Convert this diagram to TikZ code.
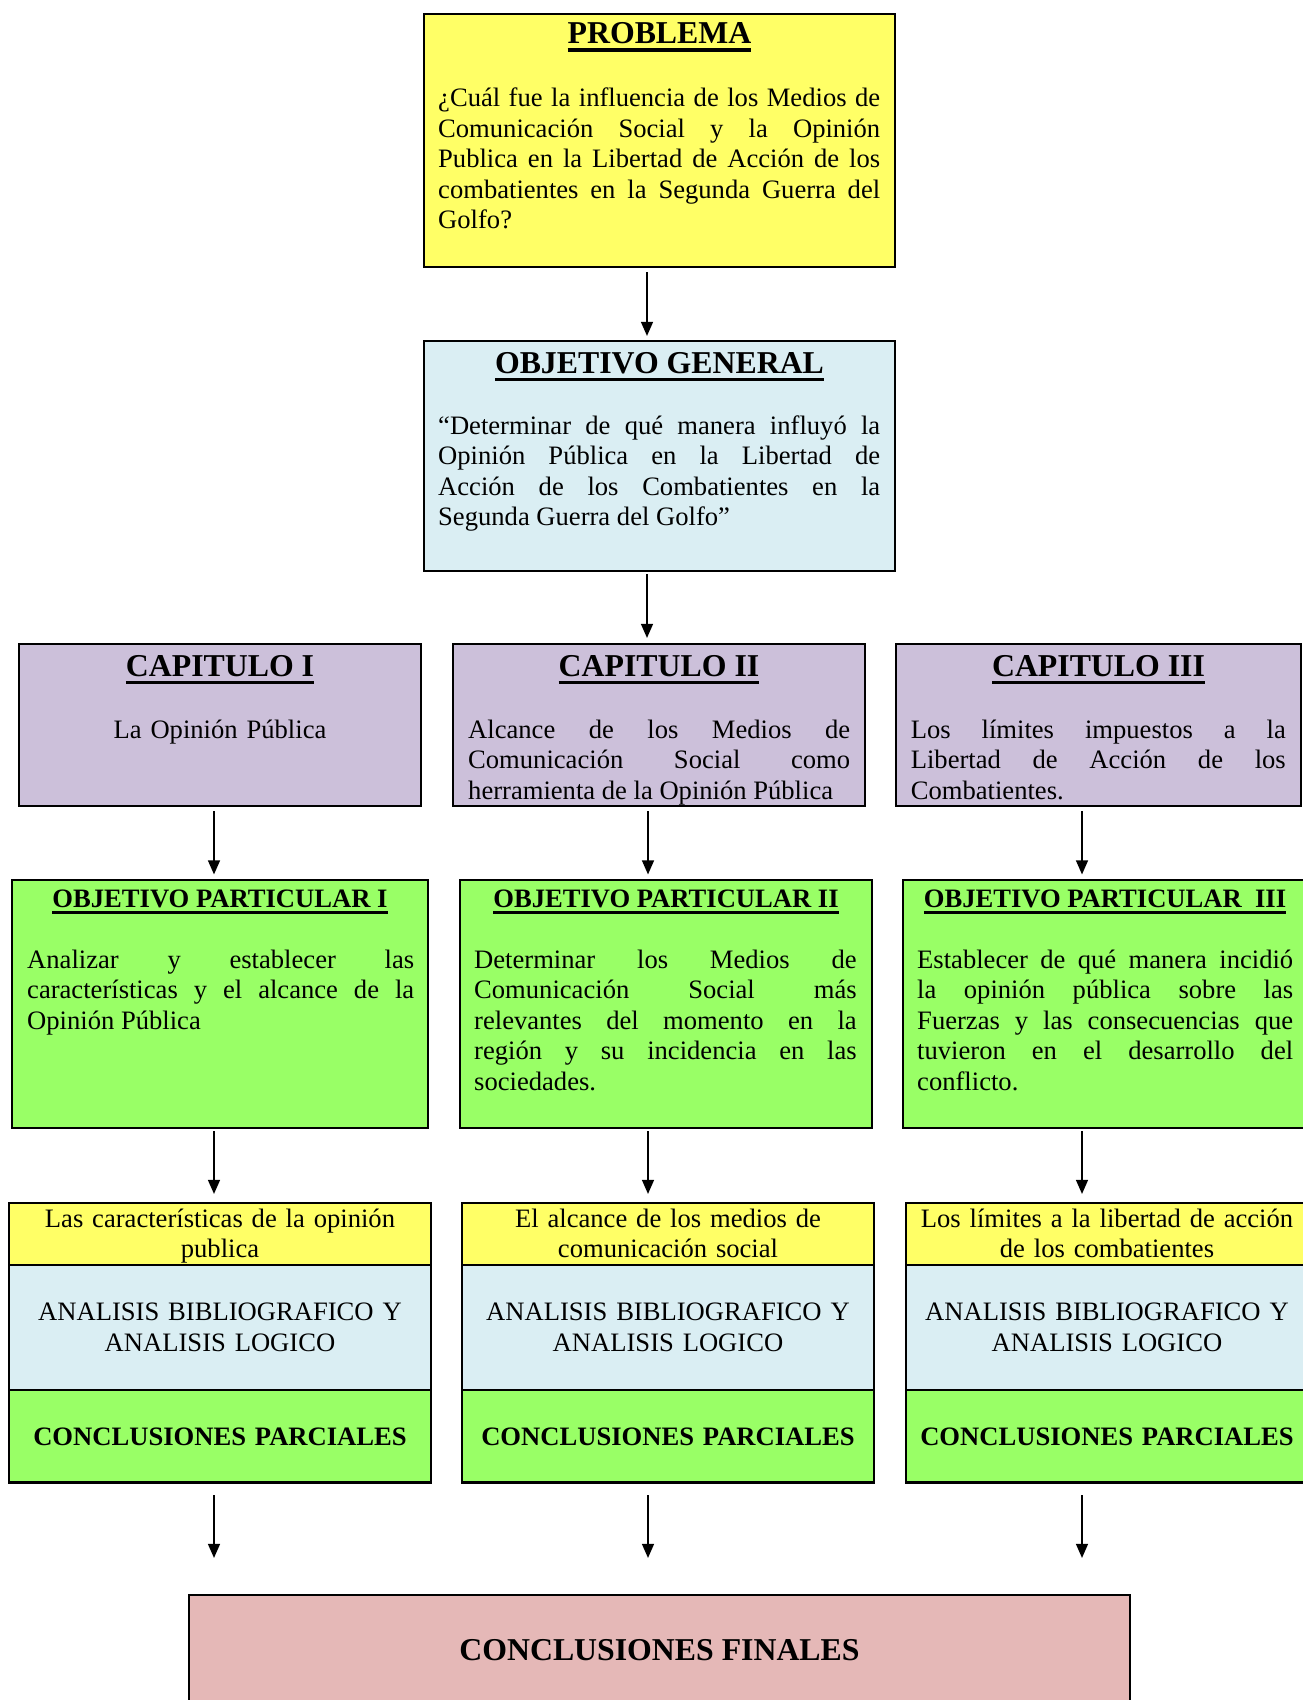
\documentclass[tikz,border=0pt]{standalone}
\usepackage{fontspec}
\setmainfont{Liberation Serif}
\usetikzlibrary{arrows.meta}
\definecolor{cyel}{RGB}{255,255,102}
\definecolor{cblu}{RGB}{218,238,243}
\definecolor{clav}{RGB}{204,192,218}
\definecolor{cgrn}{RGB}{153,255,102}
\definecolor{cpnk}{RGB}{229,184,183}
\newcommand\hul[3]{\setbox0\hbox{#1}\rlap{\rule[#2]{\wd0}{#3}}\box0}
\newcommand\bigh[1]{{\fontsize{31.8}{36}\selectfont\bfseries\hul{#1}{-8.2pt}{3.3pt}}}
\newcommand\smh[1]{{\fontsize{26.6}{30.6}\selectfont\bfseries\hul{#1}{-6.6pt}{2.7pt}}}
\begin{document}
\begin{tikzpicture}[x=1pt,y=-1pt,
  box/.style={draw=black,line width=2.2pt,inner sep=0pt,rectangle},
  body/.style={anchor=base west,inner sep=0pt,text width=#1,align=justify,
    font=\fontsize{26.6}{30.6}\selectfont,
    execute at begin node={\tolerance=10000\hbadness=10000\hfuzz=3pt}},
  cbody/.style={anchor=base,inner sep=0pt,text width=#1,align=center,
    font=\fontsize{26.6}{30.6}\selectfont},
  head/.style={anchor=base,inner sep=0pt},
  arr/.style={-{Triangle[length=14pt,width=12pt]},line width=1.3pt}
]
\useasboundingbox[fill=white] (0,0) rectangle (1302,1700);

% ---- PROBLEMA
\node[box,fill=cyel,minimum width=471pt,minimum height=253pt] (prob) at (659.5,140.5) {};
\node[head] (probh) at (659.5,43.3) {\bigh{PROBLEMA}};
\node[body=442pt] (probt) at (438,106.5) {¿Cuál fue la influencia de los Medios de\linebreak Comunicación Social y la Opinión\linebreak Publica en la Libertad de Acción de los\linebreak combatientes en la Segunda Guerra del\linebreak Golfo?};

% ---- OBJETIVO GENERAL
\node[box,fill=cblu,minimum width=471pt,minimum height=230pt] (gen) at (659.5,456) {};
\node[head] (genh) at (659.5,373) {\bigh{OBJETIVO GENERAL}};
\node[body=442pt] (gent) at (438,434) {“Determinar de qué manera influyó la\linebreak Opinión Pública en la Libertad de\linebreak Acción de los Combatientes en la\linebreak Segunda Guerra del Golfo”};

% ---- CAPITULOS
\node[box,fill=clav,minimum width=402pt,minimum height=162pt] (cap1) at (220,725) {};
\node[box,fill=clav,minimum width=412pt,minimum height=162pt] (cap2) at (659,725) {};
\node[box,fill=clav,minimum width=405pt,minimum height=162pt] (cap3) at (1098.5,725) {};
\node[head] (cap1h) at (220,676) {\bigh{CAPITULO I}};
\node[head] (cap2h) at (659,676) {\bigh{CAPITULO II}};
\node[head] (cap3h) at (1098.5,676) {\bigh{CAPITULO III}};
\node[cbody=380pt] (cap1t) at (220,738) {La Opinión Pública};
\node[body=382pt] (cap2t) at (468,738) {Alcance de los Medios de\linebreak Comunicación Social como\linebreak herramienta de la Opinión Pública};
\node[body=375pt] (cap3t) at (910.6,738) {Los límites impuestos a la\linebreak Libertad de Acción de los\linebreak Combatientes.};

% ---- OBJETIVOS PARTICULARES
\node[box,fill=cgrn,minimum width=416pt,minimum height=248pt] (op1) at (220,1004) {};
\node[box,fill=cgrn,minimum width=412pt,minimum height=248pt] (op2) at (666,1004) {};
\node[box,fill=cgrn,minimum width=404pt,minimum height=248pt] (op3) at (1105,1004) {};
\node[head] (op1h) at (220,907.5) {\smh{OBJETIVO PARTICULAR I}};
\node[head] (op2h) at (666,907.5) {\smh{OBJETIVO PARTICULAR II}};
\node[head] (op3h) at (1105,907.5) {\smh{OBJETIVO PARTICULAR \ III}};
\node[body=387pt] (op1t) at (27,968) {Analizar y establecer las\linebreak características y el alcance de la\linebreak Opinión Pública};
\node[body=382.5pt] (op2t) at (474,968) {Determinar los Medios de\linebreak Comunicación Social más\linebreak relevantes del momento en la\linebreak región y su incidencia en las\linebreak sociedades.};
\node[body=376pt] (op3t) at (917,968) {Establecer de qué manera incidió\linebreak la opinión pública sobre las\linebreak Fuerzas y las consecuencias que\linebreak tuvieron en el desarrollo del\linebreak conflicto.};

% ---- STACKS
\node[box,fill=cyel,minimum width=422pt,minimum height=62pt] (y1) at (220,1233.6) {};
\node[box,fill=cblu,minimum width=422pt,minimum height=125.3pt] (b1) at (220,1327.4) {};
\node[box,fill=cgrn,minimum width=422pt,minimum height=92.5pt] (g1) at (220,1436.2) {};
\node[box,fill=cyel,minimum width=412pt,minimum height=62pt] (y2) at (668,1233.6) {};
\node[box,fill=cblu,minimum width=412pt,minimum height=125.3pt] (b2) at (668,1327.4) {};
\node[box,fill=cgrn,minimum width=412pt,minimum height=92.5pt] (g2) at (668,1436.2) {};
\node[box,fill=cyel,minimum width=402pt,minimum height=62pt] (y3) at (1107,1233.6) {};
\node[box,fill=cblu,minimum width=402pt,minimum height=125.3pt] (b3) at (1107,1327.4) {};
\node[box,fill=cgrn,minimum width=402pt,minimum height=92.5pt] (g3) at (1107,1436.2) {};

\node[cbody=410pt] (y1t) at (220,1227) {Las características de la opinión\\publica};
\node[cbody=400pt] (y2t) at (668,1227) {El alcance de los medios de\\comunicación social};
\node[cbody=400pt] (y3t) at (1107,1227) {Los límites a la libertad de acción\\de los combatientes};
\node[cbody=410pt] (b1t) at (220,1320.8) {ANALISIS BIBLIOGRAFICO Y\\ANALISIS LOGICO};
\node[cbody=400pt] (b2t) at (668,1320.8) {ANALISIS BIBLIOGRAFICO Y\\ANALISIS LOGICO};
\node[cbody=400pt] (b3t) at (1107,1320.8) {ANALISIS BIBLIOGRAFICO Y\\ANALISIS LOGICO};
\node[cbody=410pt] (g1t) at (220,1445.3) {\bfseries CONCLUSIONES PARCIALES};
\node[cbody=410pt] (g2t) at (668,1445.3) {\bfseries CONCLUSIONES PARCIALES};
\node[cbody=410pt] (g3t) at (1107,1445.3) {\bfseries CONCLUSIONES PARCIALES};

% ---- FINAL
\node[box,fill=cpnk,minimum width=941pt,minimum height=116pt] (fin) at (659.5,1653) {};
\node[head,font=\fontsize{31.8}{36}\selectfont\bfseries] (fint) at (659.5,1660.7) {CONCLUSIONES FINALES};

% ---- ARROWS
\draw[arr] ([xshift=-12.5pt,yshift=-4pt]prob.south) -- ([xshift=-12.5pt,yshift=4pt]gen.north);
\draw[arr] ([xshift=-12.5pt,yshift=-2pt]gen.south) -- ([xshift=-12pt,yshift=5pt]cap2.north);

\draw[arr] ([xshift=-6pt,yshift=-4pt]cap1.south) -- ([xshift=-6pt,yshift=4.5pt]op1.north);
\draw[arr] ([xshift=-11pt,yshift=-4pt]cap2.south) -- ([xshift=-18pt,yshift=4.5pt]op2.north);
\draw[arr] ([xshift=-16.5pt,yshift=-4pt]cap3.south) -- ([xshift=-23pt,yshift=4.5pt]op3.north);

\draw[arr] ([xshift=-6pt,yshift=-2pt]op1.south) -- ([xshift=-6pt,yshift=7.6pt]y1.north);
\draw[arr] ([xshift=-18pt,yshift=-2pt]op2.south) -- ([xshift=-20pt,yshift=7.6pt]y2.north);
\draw[arr] ([xshift=-23pt,yshift=-2pt]op3.south) -- ([xshift=-25pt,yshift=7.6pt]y3.north);

\draw[arr] ([xshift=-6pt,yshift=-11.5pt]g1.south) -- ([xshift=-445.5pt,yshift=36pt]fin.north);
\draw[arr] ([xshift=-20pt,yshift=-11.5pt]g2.south) -- ([xshift=-11.5pt,yshift=36pt]fin.north);
\draw[arr] ([xshift=-25pt,yshift=-11.5pt]g3.south) -- ([xshift=422.5pt,yshift=36pt]fin.north);
\end{tikzpicture}
\end{document}
